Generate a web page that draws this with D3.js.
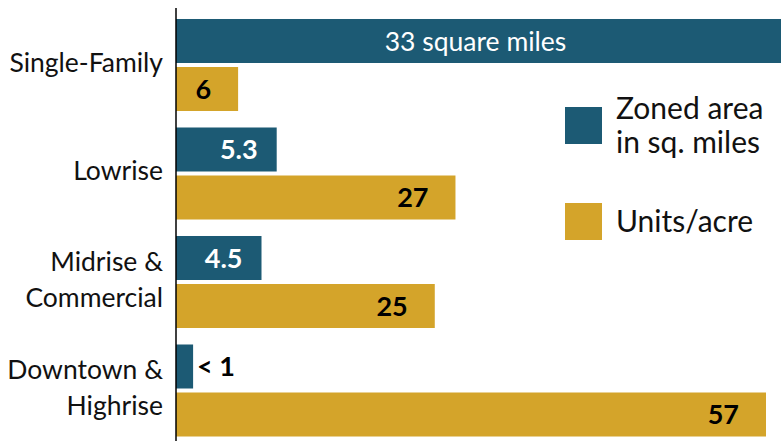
<!DOCTYPE html>
<html>
<head>
<meta charset="utf-8">
<script src="https://cdn.jsdelivr.net/npm/d3@7"></script>
<style>
  html, body { margin: 0; padding: 0; background: #ffffff; }
  svg { display: block; font-family: Lato, "Noto Sans", sans-serif; }
</style>
</head>
<body>
<svg id="chart" width="781" height="441"></svg>
<script>
// Zoning categories, each one drawn as a pair of bars
const categories = ["Single-Family", "Lowrise", "Midrise & Commercial", "Downtown & Highrise"];
const categoryLines = [["Single-Family"], ["Lowrise"], ["Midrise &", "Commercial"], ["Downtown &", "Highrise"]];

// Zoned area (square miles) and density (units per acre)
const zonedArea = [33, 5.3, 4.5, 0.9];
const zonedLabels = ["33 square miles", "5.3", "4.5", "< 1"];
const unitsPerAcre = [6, 27, 25, 57];
const unitsLabels = ["6", "27", "25", "57"];

const seriesNames = ["Zoned area in sq. miles", "Units/acre"];
const legendLines = [["Zoned area", "in sq. miles"], ["Units/acre"]];
const colors = ["#1c5a74", "#d4a42a"];

const W = 781, H = 441;
const x0 = 176;
const svg = d3.select("#chart");

// One band per category, split into two sub-bands for the series
const y = d3.scaleBand()
  .domain(categories)
  .range([10.75, 444.75])
  .paddingInner(0.152)
  .paddingOuter(0.076);

const ySub = d3.scaleBand()
  .domain([0, 1])
  .range([0, y.bandwidth()])
  .paddingInner(0.0833);

// Each series has its own horizontal scale
const xArea = d3.scaleLinear().domain([0, 33]).range([x0, x0 + 627]);
const xUnits = d3.scaleLinear().domain([0, 57]).range([x0, x0 + 590]);

const rows = categories.map((c, i) => ({
  cat: c, lines: categoryLines[i],
  area: zonedArea[i], areaLabel: zonedLabels[i],
  units: unitsPerAcre[i], unitsLabel: unitsLabels[i]
}));

const g = svg.append("g");

// Zoned area bars
g.selectAll("rect.area").data(rows).join("rect")
  .attr("class", "area")
  .attr("x", x0)
  .attr("y", d => y(d.cat) + ySub(0))
  .attr("width", d => xArea(d.area) - x0)
  .attr("height", ySub.bandwidth())
  .attr("fill", colors[0]);

// Units per acre bars
g.selectAll("rect.units").data(rows).join("rect")
  .attr("class", "units")
  .attr("x", x0)
  .attr("y", d => y(d.cat) + ySub(1))
  .attr("width", d => xUnits(d.units) - x0)
  .attr("height", ySub.bandwidth())
  .attr("fill", colors[1]);

// Zoned area value labels
g.selectAll("text.areaLabel").data(rows).join("text")
  .attr("class", "areaLabel")
  .attr("y", d => y(d.cat) + ySub(0) + ySub.bandwidth() / 2)
  .attr("dy", "0.36em")
  .each(function(d) {
    const t = d3.select(this);
    const end = xArea(d.area);
    if (end > W) {
      // bar runs past the edge: centre the label on its visible part
      t.attr("x", (x0 + W) / 2 - 3).attr("text-anchor", "middle")
       .attr("fill", "#ffffff").attr("font-size", 26.5).attr("font-weight", 400);
    } else if (end - x0 < 40) {
      t.attr("x", end + 4).attr("text-anchor", "start")
       .attr("fill", "#000000").attr("font-size", 27).attr("font-weight", 700);
    } else {
      t.attr("x", end - 19).attr("text-anchor", "end")
       .attr("fill", "#ffffff").attr("font-size", 27).attr("font-weight", 700);
    }
  })
  .text(d => d.areaLabel);

// Units per acre value labels
g.selectAll("text.unitsLabel").data(rows).join("text")
  .attr("class", "unitsLabel")
  .attr("x", d => xUnits(d.units) - 27)
  .attr("y", d => y(d.cat) + ySub(1) + ySub.bandwidth() / 2)
  .attr("dy", "0.36em")
  .attr("text-anchor", "end")
  .attr("font-size", 27)
  .attr("font-weight", 700)
  .attr("fill", "#000000")
  .text(d => d.unitsLabel);

// Category axis line
svg.append("line")
  .attr("x1", x0).attr("x2", x0)
  .attr("y1", 8).attr("y2", H)
  .attr("stroke", "#000").attr("stroke-width", 1.5);

// Category labels
const cat = svg.selectAll("text.cat").data(rows).join("text")
  .attr("class", "cat")
  .attr("text-anchor", "end")
  .attr("font-size", 26.5)
  .attr("fill", "#111");
cat.each(function(d) {
  const t = d3.select(this);
  const mid = y(d.cat) + y.bandwidth() / 2 - 3;
  const lh = 36;
  const top = mid - (d.lines.length - 1) * lh / 2;
  d.lines.forEach((ln, k) => {
    t.append("tspan")
      .attr("x", 163)
      .attr("y", top + k * lh)
      .attr("dy", "0.36em")
      .text(ln);
  });
});

// Legend
const legend = svg.append("g");
const legendY = [107, 203];
seriesNames.forEach((s, i) => {
  legend.append("rect")
    .attr("x", 565).attr("y", legendY[i])
    .attr("width", 37).attr("height", 37)
    .attr("fill", colors[i]);
  const lines = legendLines[i];
  const t = legend.append("text")
    .attr("font-size", 30).attr("fill", "#111");
  const mid = legendY[i] + 18.5;
  const lh = 34;
  const top = mid - (lines.length - 1) * lh / 2;
  lines.forEach((ln, k) => {
    t.append("tspan")
      .attr("x", 616)
      .attr("y", top + k * lh)
      .attr("dy", "0.36em")
      .text(ln);
  });
});
</script>
</body>
</html>
